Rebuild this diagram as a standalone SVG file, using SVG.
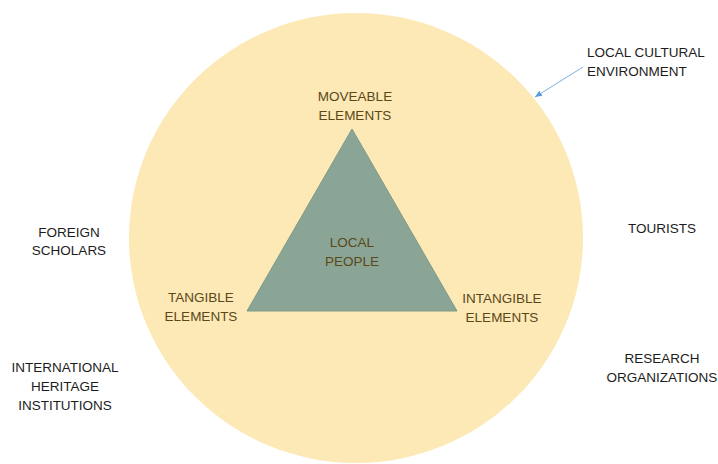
<svg xmlns="http://www.w3.org/2000/svg" width="718" height="464" viewBox="0 0 718 464">
<style>
text{font-family:"Liberation Sans",Arial,sans-serif;font-size:13.5px;text-anchor:middle}
.out{fill:#1c1c1c}
.in{fill:#5a4819}
</style>
<defs>
<marker id="ah" markerWidth="8" markerHeight="8" refX="7" refY="4" orient="auto" markerUnits="userSpaceOnUse">
<path d="M0,1 L7,4 L0,7 Z" fill="#5b9bd5"/>
</marker>
</defs>
<rect width="718" height="464" fill="#ffffff"/>
<g id="env">
<ellipse cx="356" cy="238" rx="227" ry="225" fill="#fde9b6"/>
</g>
<g id="people">
<polygon points="352,129 247,311 457,311" fill="#8aa595" stroke="#7f9a8a" stroke-width="1"/>
<text class="in" x="352" y="247">LOCAL</text>
<text class="in" x="352" y="266">PEOPLE</text>
</g>
<g id="moveable">
<text class="in" x="355" y="101">MOVEABLE</text>
<text class="in" x="355" y="120">ELEMENTS</text>
</g>
<g id="tangible">
<text class="in" x="201" y="302">TANGIBLE</text>
<text class="in" x="201" y="321">ELEMENTS</text>
</g>
<g id="intangible">
<text class="in" x="502" y="303">INTANGIBLE</text>
<text class="in" x="502" y="322">ELEMENTS</text>
</g>
<g id="env-label">
<text class="out" x="587" y="57" style="text-anchor:start">LOCAL CULTURAL</text>
<text class="out" x="587" y="76" style="text-anchor:start">ENVIRONMENT</text>
</g>
<g id="foreign">
<text class="out" x="69" y="237">FOREIGN</text>
<text class="out" x="69" y="255">SCHOLARS</text>
</g>
<g id="international">
<text class="out" x="65" y="372">INTERNATIONAL</text>
<text class="out" x="65" y="391">HERITAGE</text>
<text class="out" x="65" y="410">INSTITUTIONS</text>
</g>
<g id="tourists">
<text class="out" x="662" y="233">TOURISTS</text>
</g>
<g id="research">
<text class="out" x="662" y="363">RESEARCH</text>
<text class="out" x="662" y="382">ORGANIZATIONS</text>
</g>
<g id="connectors">
<line x1="583" y1="67" x2="535" y2="97" stroke="#5b9bd5" stroke-width="0.8" marker-end="url(#ah)"/>
</g>
</svg>
